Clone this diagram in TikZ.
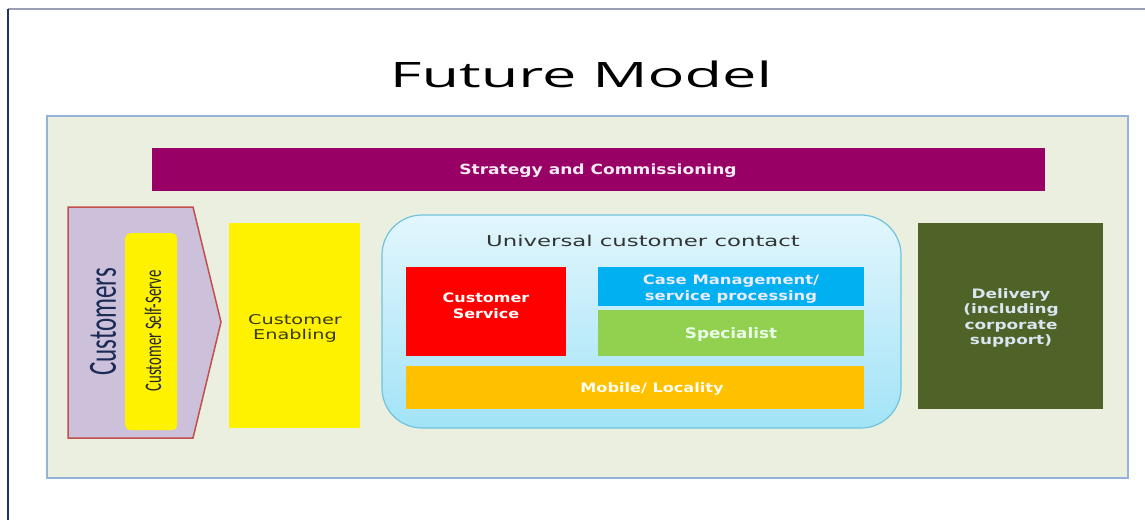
\documentclass[tikz,border=0pt]{standalone}
\usepackage{fontspec}
\usepackage{graphicx}
\setmainfont{DejaVu Sans}
\newfontfamily\titlefont{Open Sans}
\newfontfamily\narrowfont{Carlito}
\newcommand{\sx}[2]{\scalebox{#1}[1]{#2}}
\definecolor{panelfill}{HTML}{EBEFDF}
\definecolor{panelline}{HTML}{95B3D7}
\definecolor{stratcol}{HTML}{990066}
\definecolor{custfill}{HTML}{CCC0DA}
\definecolor{custline}{HTML}{C0504D}
\definecolor{ucctop}{HTML}{E2F6FD}
\definecolor{uccbot}{HTML}{A2E3F7}
\definecolor{uccline}{HTML}{6FC3DC}
\definecolor{casecol}{HTML}{00B0F0}
\definecolor{speccol}{HTML}{92D050}
\definecolor{mobcol}{HTML}{FFC000}
\definecolor{delcol}{HTML}{4F6228}
\definecolor{navy}{HTML}{1F3264}
\definecolor{topline}{HTML}{9A9EB4}
\definecolor{lighttext}{HTML}{F4EAF2}
\definecolor{olivetext}{HTML}{3A3A10}
\definecolor{deltext}{HTML}{DCE6F0}
\begin{document}
\begin{tikzpicture}[x=1pt,y=-1pt,
  box/.style={draw=none,inner sep=0pt,anchor=north west},
  lbl/.style={inner sep=0pt,align=center,font=\bfseries\fontsize{13}{15.5}\selectfont},
]
\useasboundingbox (0,0) rectangle (1145,520);
\fill[white] (0,0) rectangle (1145,520);
% frame
\draw[topline,line width=1.5pt] (8,9) -- (1145,9);
\draw[navy,line width=1.8pt] (8,9) -- (8,520);
% title
\node[font=\titlefont\fontsize{35}{40}\selectfont,anchor=base,inner sep=0pt] (title) at (581,87) {\sx{1.75}{Future Model}};
% panel
\draw[panelline,fill=panelfill,line width=1.3pt] (47,116) rectangle (1128,478);
\node[box,fill=stratcol,minimum width=893pt,minimum height=43pt] (strat) at (152,148) {};
\node[lbl,text=lighttext,font=\bfseries\fontsize{14}{16}\selectfont] (stratlbl) at (598,171) {\sx{1.22}{Strategy and Commissioning}};
% customers pentagon
\draw[custline,fill=custfill,line width=1.5pt] (68,207) -- (193,207) -- (221,322) -- (193,438) -- (68,438) -- cycle;
\node[font=\narrowfont\fontsize{25}{25}\selectfont,rotate=90,text=navy!85!black,inner sep=0pt] (cust) at (103,322) {\scalebox{1}[1.6]{Customers}};
\node[box,fill=yellow,rounded corners=5pt,minimum width=52pt,minimum height=197pt] (selfserve) at (125,233) {};
\node[font=\narrowfont\fontsize{14.8}{15}\selectfont,rotate=90,inner sep=0pt,text=black!85] (sslabel) at (153,331) {\scalebox{1}[1.6]{Customer Self-Serve}};
% enabling
\node[box,fill=yellow,minimum width=131pt,minimum height=205pt] (enab) at (229,223) {};
\node[lbl,text=olivetext,font=\fontsize{13.5}{15}\selectfont] (enablbl) at (295,328) {\sx{1.43}{Customer}\\\sx{1.43}{Enabling}};
% universal
\shade[top color=ucctop,bottom color=uccbot,draw=uccline,line width=1.2pt,rounded corners=40pt] (382,215) rectangle (901,428);
\node[font=\fontsize{15}{18}\selectfont,text=black!80,anchor=base,inner sep=0pt] (ucc) at (643,246) {\sx{1.52}{Universal customer contact}};
\node[box,fill=red,minimum width=160pt,minimum height=89pt] (cs) at (406,267) {};
\node[lbl,text=white] (cslbl) at (486,306) {\sx{1.23}{Customer}\\\sx{1.23}{Service}};
\node[box,fill=casecol,minimum width=266pt,minimum height=39pt] (case) at (598,267) {};
\node[lbl,text=white!92!blue,font=\bfseries\fontsize{13}{16}\selectfont] (caselbl) at (731,289) {\sx{1.26}{Case Management/}\\\sx{1.26}{service processing}};
\node[box,fill=speccol,minimum width=266pt,minimum height=46pt] (spec) at (598,310) {};
\node[lbl,text=white!92!green,font=\bfseries\fontsize{14.5}{16}\selectfont] (speclbl) at (731,334) {\sx{1.16}{Specialist}};
\node[box,fill=mobcol,minimum width=458pt,minimum height=43pt] (mob) at (406,366) {};
\node[lbl,text=white!95!yellow] (moblbl) at (652,389) {\sx{1.24}{Mobile/ Locality}};
% delivery
\node[box,fill=delcol,minimum width=185pt,minimum height=186pt] (deliv) at (918,223) {};
\node[lbl,text=deltext] (delivlbl) at (1011,318) {\sx{1.3}{Delivery}\\\sx{1.3}{(including}\\\sx{1.3}{corporate}\\\sx{1.3}{support)}};
\end{tikzpicture}
\end{document}
